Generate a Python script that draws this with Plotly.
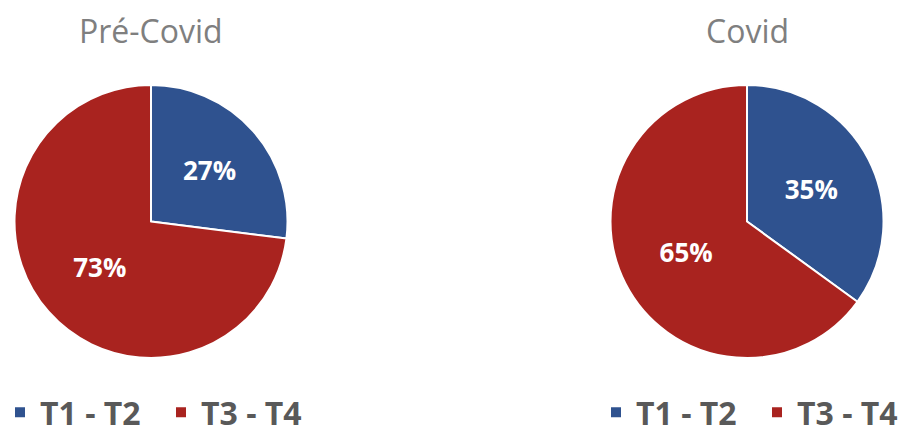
import plotly.graph_objects as go

categories = ["T1 - T2", "T3 - T4"]
pre_covid = [27, 73]
covid = [35, 65]
titles = ["Pré-Covid", "Covid"]
colors = ["#2F528F", "#A9231F"]

W, H = 903, 435

def dom(x0, x1, ytop, ybot):
    return dict(x=[x0 / W, x1 / W], y=[(H - ybot) / H, (H - ytop) / H])

# second legend needs distinct label keys (zero-width suffix keeps the text identical)
covid_labels = [c + "\u200b" for c in categories]

pie_font = dict(color="white", size=26, family="Open Sans", weight="bold")
fig = go.Figure()
fig.add_trace(go.Pie(
    labels=categories, values=pre_covid, sort=False, direction="clockwise",
    marker=dict(colors=colors, line=dict(color="white", width=2)),
    texttemplate="%{percent:.0%}", textposition="inside",
    insidetextorientation="horizontal", textfont=pie_font,
    domain=dom(14, 288, 85, 358), legend="legend", hoverinfo="label+percent",
))
fig.add_trace(go.Pie(
    labels=covid_labels, values=covid, sort=False, direction="clockwise",
    marker=dict(colors=colors, line=dict(color="white", width=2)),
    texttemplate="%{percent:.0%}", textposition="inside",
    insidetextorientation="horizontal", textfont=pie_font,
    domain=dom(610, 884, 85, 358), legend="legend2", hoverinfo="label+percent",
))

legfont = dict(color="#595959", size=32, family="Open Sans", weight="bold")
leg_common = dict(orientation="h", y=-5 / H, xanchor="left", yanchor="bottom",
                  font=legfont, itemwidth=30, traceorder="normal",
                  entrywidth=116, entrywidthmode="pixels")
fig.update_layout(
    width=W, height=H,
    margin=dict(l=0, r=0, t=0, b=0, autoexpand=False),
    paper_bgcolor="white", plot_bgcolor="white",
    legend=dict(x=0, **leg_common),
    legend2=dict(x=596 / W, **leg_common),
    annotations=[
        dict(text=titles[0], x=151 / W, y=(H - 30) / H, xref="paper", yref="paper",
             showarrow=False, xanchor="center", yanchor="middle",
             font=dict(size=32, color="#7F7F7F", family="Open Sans")),
        dict(text=titles[1], x=747 / W, y=(H - 30) / H, xref="paper", yref="paper",
             showarrow=False, xanchor="center", yanchor="middle",
             font=dict(size=32, color="#7F7F7F", family="Open Sans")),
    ],
)

fig.write_html("out.html")
